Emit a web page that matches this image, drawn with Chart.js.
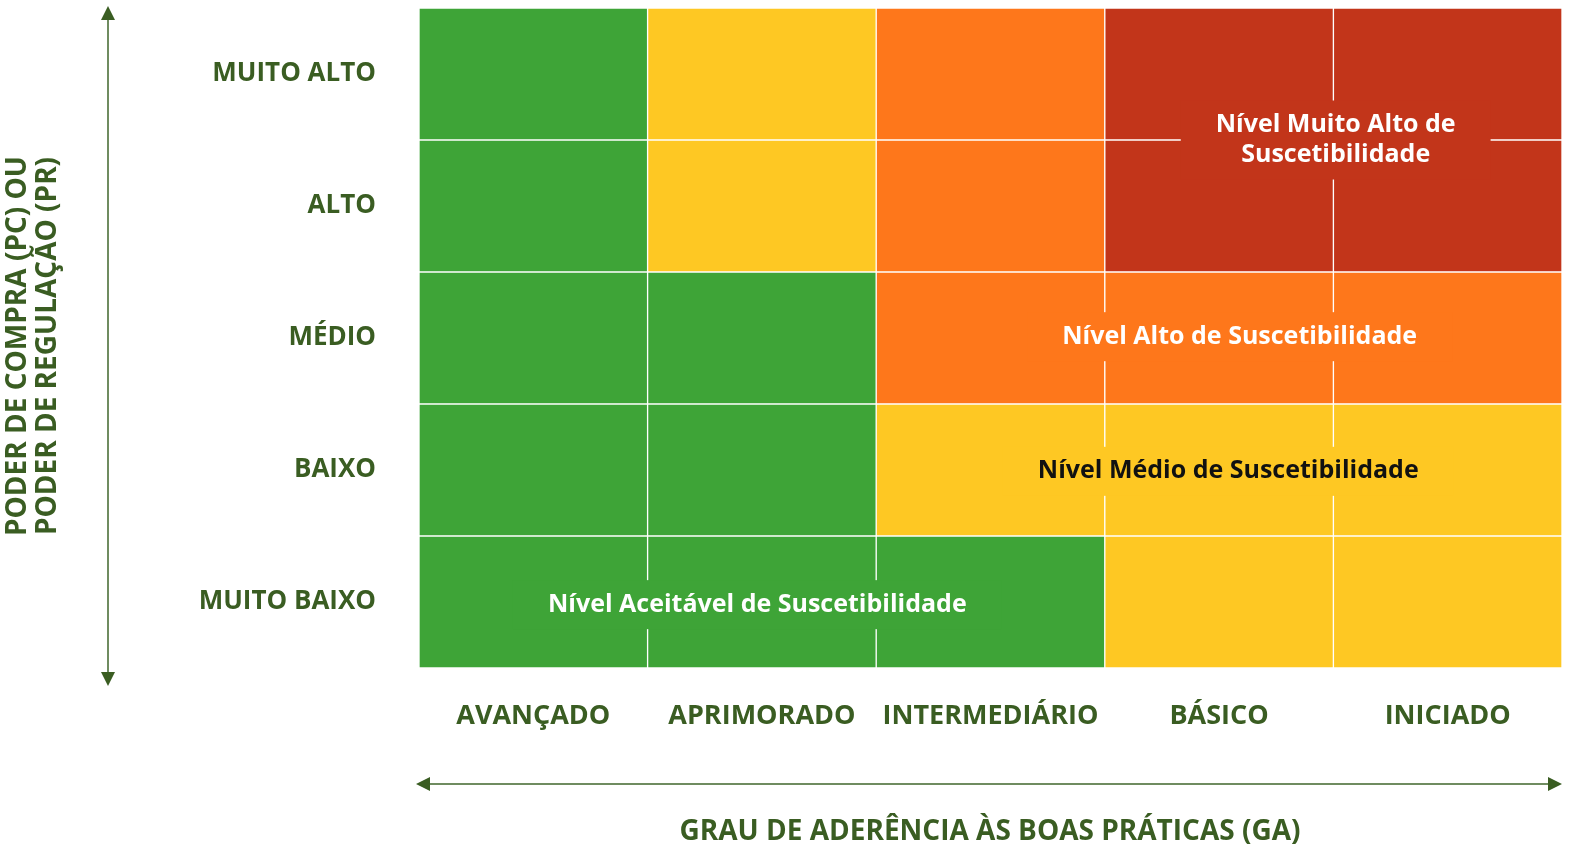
<!DOCTYPE html>
<html>
<head>
<meta charset="utf-8">
<script src="https://cdn.jsdelivr.net/npm/chart.js@4.4.1/dist/chart.umd.min.js"></script>
<style>
  html, body { margin: 0; padding: 0; background: #fff; }
  #wrap { width: 1573px; height: 854px; }
</style>
</head>
<body>
<div id="wrap"><canvas id="myChart"></canvas></div>
<script>
// grau de aderencia (colunas) e poder de compra/regulacao (linhas, de cima para baixo)
const cols = ['AVANÇADO', 'APRIMORADO', 'INTERMEDIÁRIO', 'BÁSICO', 'INICIADO'];
const rows = ['MUITO ALTO', 'ALTO', 'MÉDIO', 'BAIXO', 'MUITO BAIXO'];

// nivel de suscetibilidade de cada celula: 1 aceitavel, 2 medio, 3 alto, 4 muito alto
const levelMuitoAlto = [1, 2, 3, 4, 4];
const levelAlto = [1, 2, 3, 4, 4];
const levelMedio = [1, 1, 3, 3, 3];
const levelBaixo = [1, 1, 2, 2, 2];
const levelMuitoBaixo = [1, 1, 1, 2, 2];
const levelRows = [levelMuitoAlto, levelAlto, levelMedio, levelBaixo, levelMuitoBaixo];

// cada celula ocupa uma unidade de altura
const cellSpan = [1, 1, 1, 1, 1];

const levelColors = ['#3EA437', '#FEC823', '#FE771B', '#C2351A'];

// rotulos das zonas (posicao em unidades de coluna / linha)
const zoneText = [
    ['Nível Aceitável de Suscetibilidade'],
    ['Nível Médio de Suscetibilidade'],
    ['Nível Alto de Suscetibilidade'],
    ['Nível Muito Alto de', 'Suscetibilidade']
];
const zoneX = [0.98, 3.04, 3.09, 3.51];
const zoneY = [0.48, 1.49, 2.51, 4.0];
const zoneLevel = [1, 2, 3, 4];
const zoneInk = ['#ffffff', '#111111', '#ffffff', '#ffffff'];

const green = '#3A5D22';
const lineGreen = '#6F8C60';
const font = '"Open Sans", Lato, sans-serif';

const ctx = document.getElementById('myChart');

// um dataset por linha, empilhados de baixo para cima
var datasets = [];
for (let i = rows.length - 1; i >= 0; i--) {
    datasets.push({
        label: rows[i],
        data: cellSpan,
        backgroundColor: levelRows[i].map(l => levelColors[l - 1]),
        borderColor: '#ffffff',
        borderWidth: 1,
        borderSkipped: false,
        barPercentage: 1,
        categoryPercentage: 1
    });
}

function arrowHead(c, x, y, dir) {
    c.beginPath();
    if (dir == 'up') {
        c.moveTo(x, y); c.lineTo(x - 7, y + 14); c.lineTo(x + 7, y + 14);
    } else if (dir == 'down') {
        c.moveTo(x, y); c.lineTo(x - 7, y - 14); c.lineTo(x + 7, y - 14);
    } else if (dir == 'left') {
        c.moveTo(x, y); c.lineTo(x + 14, y - 7); c.lineTo(x + 14, y + 7);
    } else {
        c.moveTo(x, y); c.lineTo(x - 14, y - 7); c.lineTo(x - 14, y + 7);
    }
    c.closePath();
    c.fill();
}

const extras = {
    id: 'extras',
    afterDatasetsDraw(chart) {
        const c = chart.ctx;
        const xs = chart.scales.x;
        const ys = chart.scales.y;
        c.save();

        // rotulos das zonas com fundo da cor da celula
        c.font = 'bold 25px ' + font;
        c.textAlign = 'center';
        c.textBaseline = 'middle';
        const lh = 30;
        for (let i = 0; i < zoneText.length; i++) {
            const px = xs.getPixelForValue(zoneX[i]);
            const py = ys.getPixelForValue(zoneY[i]);
            const lines = zoneText[i];
            let w = 0;
            lines.forEach(t => { w = Math.max(w, c.measureText(t).width); });
            const h = lines.length * lh + 19;
            c.fillStyle = levelColors[zoneLevel[i] - 1];
            c.fillRect(px - w / 2 - 35, py - h / 2, w + 70, h);
            c.fillStyle = zoneInk[i];
            lines.forEach((t, k) => {
                c.fillText(t, px, py + (k - (lines.length - 1) / 2) * lh);
            });
        }

        // seta vertical
        c.strokeStyle = lineGreen;
        c.fillStyle = green;
        c.lineWidth = 2;
        c.beginPath();
        c.moveTo(108, 18); c.lineTo(108, 674);
        c.stroke();
        arrowHead(c, 108, 6, 'up');
        arrowHead(c, 108, 686, 'down');

        // seta horizontal
        c.beginPath();
        c.moveTo(428, 784); c.lineTo(1550, 784);
        c.stroke();
        arrowHead(c, 416, 784, 'left');
        arrowHead(c, 1562, 784, 'right');

        // titulos
        c.fillStyle = green;
        c.font = 'bold 28px ' + font;
        c.textAlign = 'center';
        c.textBaseline = 'middle';
        c.fillText('GRAU DE ADERÊNCIA ÀS BOAS PRÁTICAS (GA)', 990, 832);

        c.translate(33, 346);
        c.rotate(-Math.PI / 2);
        c.fillText('PODER DE COMPRA (PC) OU', 0, -15);
        c.fillText('PODER DE REGULAÇÃO (PR)', 0, 15);
        c.restore();
    }
};

var myChart = new Chart(ctx, {
    type: 'bar',
    data: {
        labels: cols,
        datasets: datasets
    },
    options: {
        responsive: true,
        maintainAspectRatio: false,
        animation: false,
        events: [],
        layout: {
            padding: { left: 0, top: 8, right: 11, bottom: 0 }
        },
        plugins: {
            legend: { display: false },
            tooltip: { enabled: false }
        },
        scales: {
            x: {
                stacked: true,
                grid: { display: false, drawTicks: false },
                border: { display: false },
                ticks: {
                    color: green,
                    font: { family: font, size: 27, weight: 'bold' },
                    padding: 32,
                    maxRotation: 0,
                    autoSkip: false
                },
                afterFit: function (scale) {
                    scale.height = 186;
                    scale.paddingLeft = 0;
                    scale.paddingRight = 0;
                }
            },
            y: {
                stacked: true,
                min: 0,
                max: 5,
                display: false
            },
            yl: {
                type: 'category',
                position: 'left',
                labels: rows,
                offset: true,
                grid: { display: false, drawTicks: false },
                border: { display: false },
                ticks: {
                    color: green,
                    font: { family: font, size: 26, weight: 'bold' },
                    padding: 43,
                    autoSkip: false
                },
                afterFit: function (scale) {
                    scale.width = 419;
                    scale.paddingTop = 0;
                    scale.paddingBottom = 0;
                }
            }
        }
    },
    plugins: [extras]
});
</script>
</body>
</html>
